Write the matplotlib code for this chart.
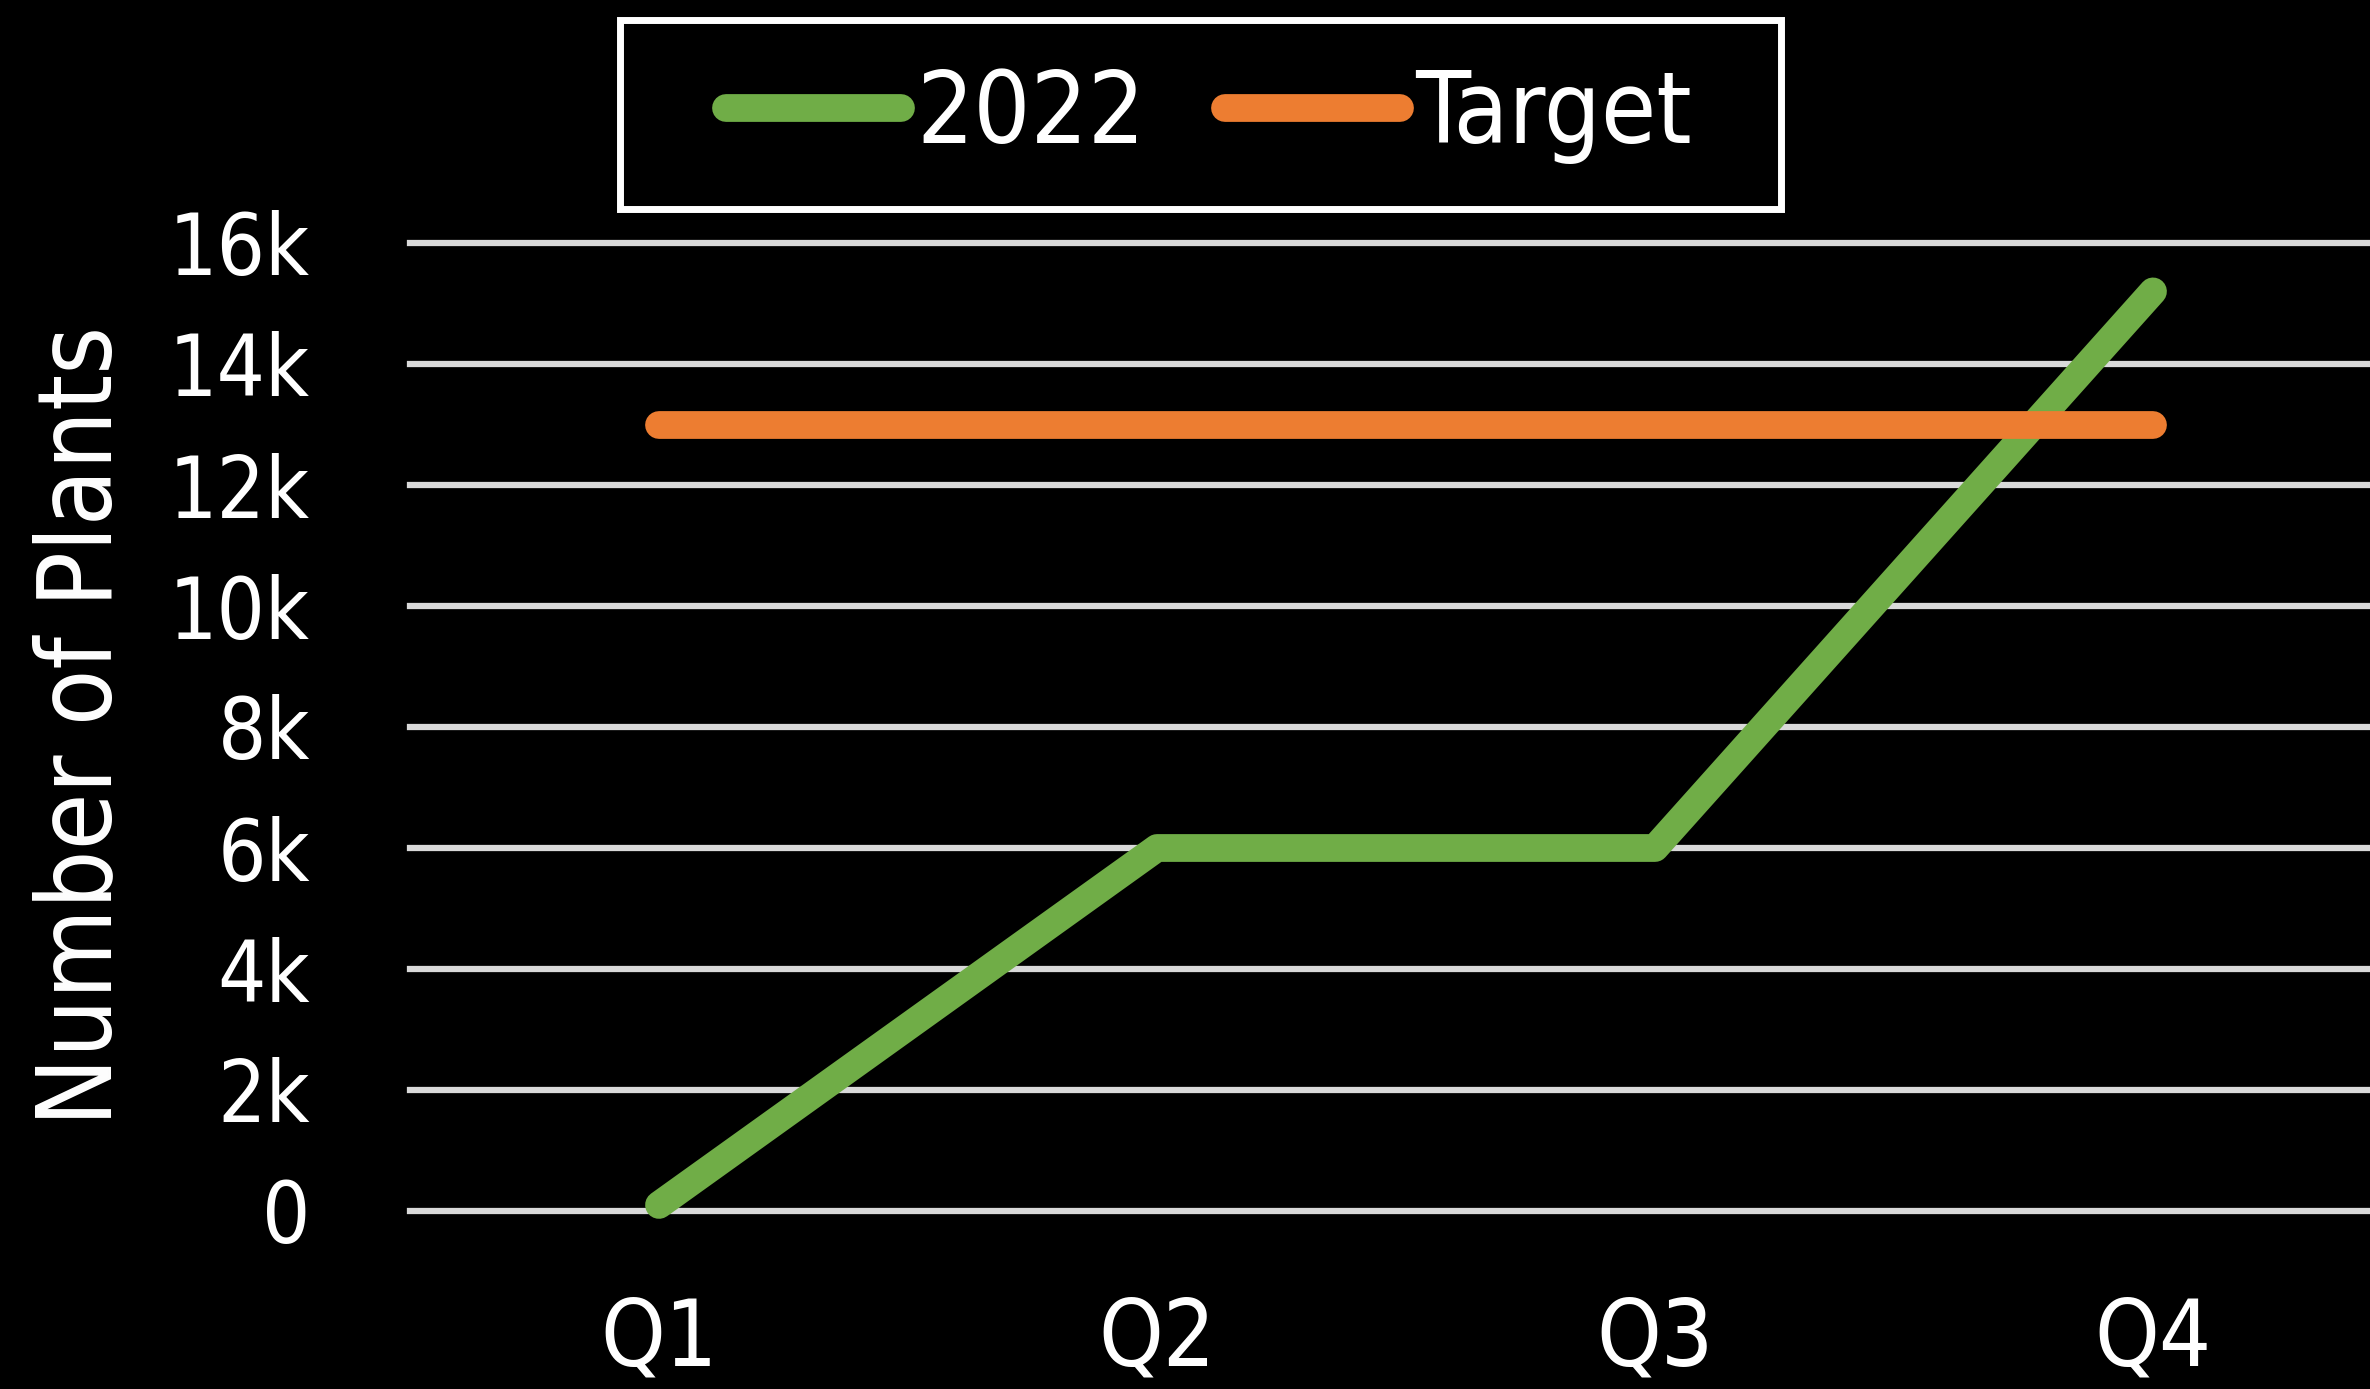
import matplotlib.pyplot as plt
import numpy as np
from matplotlib import font_manager
from matplotlib.patches import Rectangle

quarters = ["Q1", "Q2", "Q3", "Q4"]
plants_2022 = [100, 6000, 6000, 15200]
target = [13000, 13000, 13000, 13000]
y_ticks = [0, 2000, 4000, 6000, 8000, 10000, 12000, 14000, 16000]
y_labels = ["0", "2k", "4k", "6k", "8k", "10k", "12k", "14k", "16k"]

# narrow face if there is one, else Roboto
narrow = [f for f in font_manager.fontManager.ttflist
          if ('condensed' in str(f.stretch) or 'Narrow' in f.name or 'Condensed' in f.name)
          and f.style == 'normal' and f.weight in (400, 'normal', 'regular')]
if narrow:
    plt.rcParams['font.family'] = [narrow[0].name, 'DejaVu Sans']
    plt.rcParams['font.stretch'] = 'condensed'
else:
    plt.rcParams['font.family'] = ['Roboto', 'DejaVu Sans']

fig = plt.figure(figsize=(23.7, 13.89), dpi=100, facecolor='black')
ax = fig.add_axes([410 / 2370, 1 - 1211 / 1389, 1 - 410 / 2370, (1211 - 243) / 1389])
ax.set_facecolor('black')

x = np.arange(len(quarters))
ax.plot(x, plants_2022, color='#70AD47', lw=20, solid_capstyle='round',
        solid_joinstyle='round', label='2022', clip_on=False, zorder=3)
ax.plot(x, target, color='#ED7D31', lw=20, solid_capstyle='round',
        label='Target', clip_on=False, zorder=3)

ax.set_xlim(-0.5, (2370 - 410) / 498 - 0.5)
ax.set_ylim(0, 16000)
ax.set_yticks(y_ticks)
ax.set_yticklabels(y_labels)
ax.set_xticks(x)
ax.set_xticklabels(quarters)
ax.tick_params(length=0, colors='white', labelsize=61)
ax.tick_params(axis='y', pad=72)
ax.tick_params(axis='x', pad=60, labelsize=66)
ax.grid(axis='y', color='#D9D9D9', lw=4.5, zorder=1)
for gl in ax.yaxis.get_gridlines():
    gl.set_clip_on(False)
for s in ax.spines.values():
    s.set_visible(False)

fig.text(83 / 2370, 1 - 726 / 1389, "Number of Plants", color='white', fontsize=74,
         rotation=90, ha='center', va='center')

# legend without frame, box drawn separately (wider side padding than borderpad allows)
leg = fig.legend(loc='center', bbox_to_anchor=(0.510, 0.917), ncol=2, fontsize=72,
                 frameon=False, handlelength=1.75, handletextpad=0.15,
                 columnspacing=0.8, labelcolor='white')
fig.patches.append(Rectangle((0.2615, 0.8498), 0.4898, 0.1361, transform=fig.transFigure,
                             fill=False, edgecolor='white', lw=5))

fig.savefig('out.png', dpi=100, facecolor='black')
